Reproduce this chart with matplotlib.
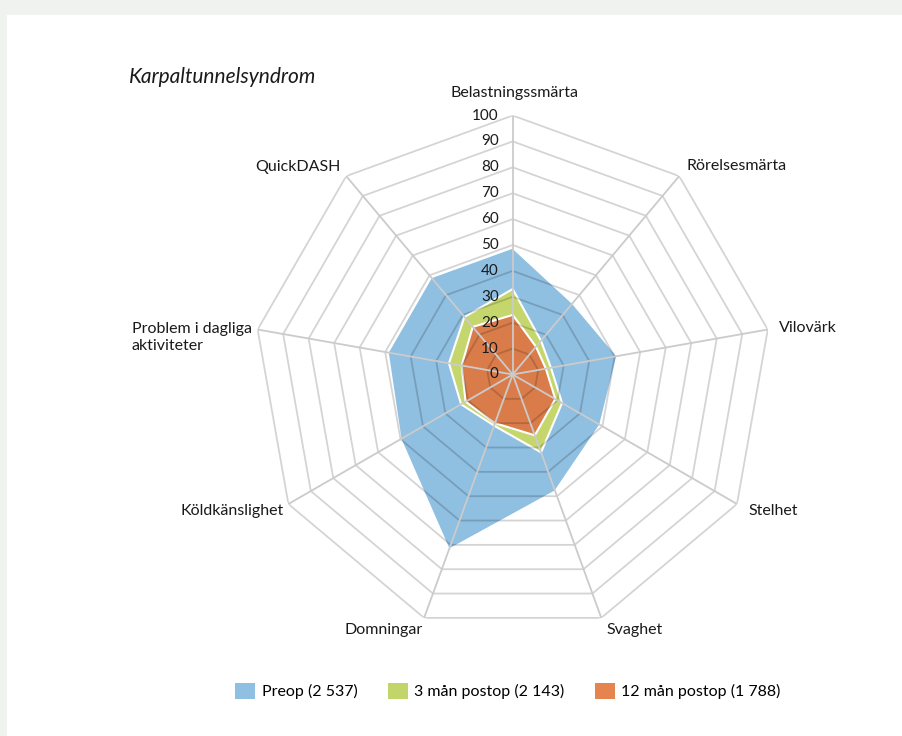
import numpy as np
import matplotlib
matplotlib.use("Agg")
import matplotlib.pyplot as plt
from matplotlib.patches import Patch, Rectangle

plt.rcParams['font.family'] = ['Lato', 'DejaVu Sans']

# axes, clockwise from the top
categories = ['Belastningssmärta', 'Rörelsesmärta', 'Vilovärk', 'Stelhet', 'Svaghet',
              'Domningar', 'Köldkänslighet', 'Problem i dagliga\naktiviteter', 'QuickDASH']
preop = [49, 36, 41, 39, 48, 72, 50, 49, 49]
post3 = [33, 17, 15, 22, 32, 21, 23, 25, 29]
post12 = [23, 14, 13, 19, 25, 20, 21, 20, 24]
series_names = ['Preop (2 537)', '3 mån postop (2 143)', '12 mån postop (1 788)']
ticks = [0, 10, 20, 30, 40, 50, 60, 70, 80, 90, 100]

colors = ['#8fbfe1', '#c2d56a', '#e5844f']
fill_colors = ['#8fbfe1', '#c5d66c', '#d97c4a']
# label offsets (pixels) from the outer vertex, and alignment
label_pos = [(2, 23, 'center'), (7, 10, 'left'), (11, 2, 'left'), (11, -7, 'left'),
             (5, -12, 'left'), (-1, -12, 'right'), (-5, -7, 'right'), (-6, -8, 'right'),
             (-6, 9, 'right')]

n = len(categories)
theta = np.arange(n) * 2 * np.pi / n
theta_c = np.append(theta, theta[0])

fig = plt.figure(figsize=(9.03, 7.36), dpi=100, facecolor='#f0f2ef')
fig.patches.append(Rectangle((7 / 903, 0), 1, 1 - 15 / 736, transform=fig.transFigure,
                             facecolor='white', edgecolor='none', zorder=-1))

ax = fig.add_axes([253.7 / 903, 102.5 / 736, 518 / 903, 518 / 736], projection='polar')
ax.set_theta_offset(np.pi / 2)
ax.set_theta_direction(-1)
ax.set_ylim(0, 100)
ax.axis('off')

for vals, fc in zip([preop, post3, post12], fill_colors):
    v = np.append(vals, vals[0])
    ax.fill(theta_c, v, facecolor=fc, edgecolor='white', lw=1.5, zorder=2)

# rings (semi-transparent so they darken over the fills)
for t in ticks[1:]:
    ax.plot(theta_c, [t] * (n + 1), color='black', alpha=0.17, lw=1.3, zorder=3)
# spokes
for th in theta:
    ax.plot([th, th], [0, 100], color='#cbcbcb', lw=1.3, zorder=4)

for t in ticks:
    ax.annotate(str(t), xy=(0, t), xytext=(-14, 0), textcoords='offset pixels',
                ha='right', va='center', fontsize=11, color='#1a1a1a', zorder=5)

for th, lab, (dx, dy, ha) in zip(theta, categories, label_pos):
    ax.annotate(lab, xy=(th, 100), xytext=(dx, dy), textcoords='offset pixels',
                ha=ha, va='center', multialignment='left', fontsize=11.5, color='#1a1a1a')

fig.text(129 / 903, 1 - 77 / 736, 'Karpaltunnelsyndrom', style='italic', fontsize=15,
         ha='left', va='center', color='#1a1a1a')

handles = [Patch(facecolor=c, edgecolor='none') for c in colors]
fig.legend(handles, series_names, loc='center', bbox_to_anchor=(508 / 903, 1 - 691 / 736),
           ncol=3, frameon=False, fontsize=11.5, handlelength=1.25, handleheight=1.25,
           columnspacing=1.9, handletextpad=0.4)

fig.savefig('out.png', dpi=100, facecolor=fig.get_facecolor())
